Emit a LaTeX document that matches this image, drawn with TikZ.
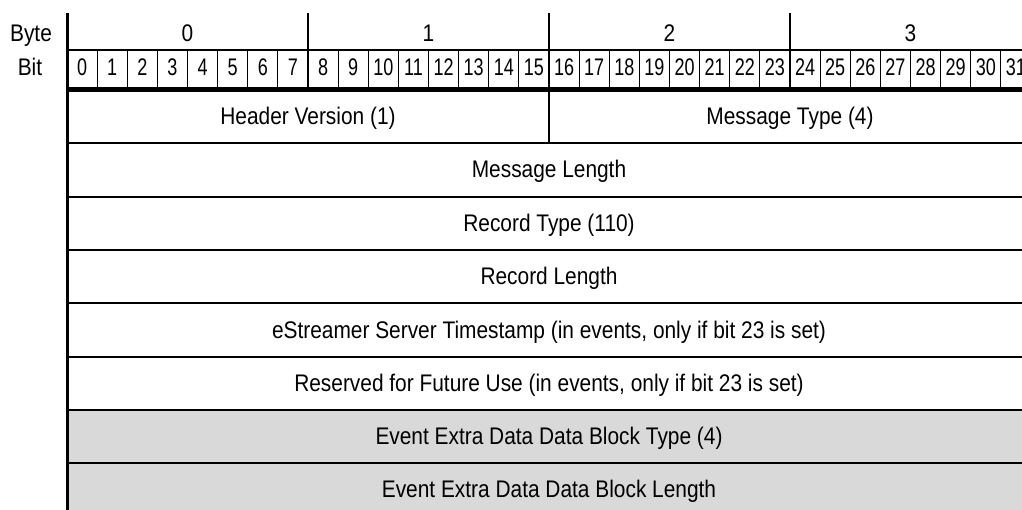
\documentclass[tikz,border=0pt]{standalone}
\usepackage{fontspec}
\setmainfont{Liberation Sans}
\newfontfamily\mainnarrow[FakeStretch=0.87]{Liberation Sans}
\newfontfamily\bitfont[FakeStretch=0.75]{Liberation Sans}
\definecolor{rowgray}{HTML}{D9D9D9}
\begin{document}
\begin{tikzpicture}[x=1pt,y=-1pt,
  lbl/.style={font=\mainnarrow\fontsize{24}{26}\selectfont, inner sep=0, anchor=base},
  bitlbl/.style={font=\bitfont\fontsize{24}{26}\selectfont, inner sep=0, anchor=base},
  rowline/.style={line width=2pt},
  thinline/.style={line width=0.8pt},
  byteline/.style={line width=2pt}]
\useasboundingbox (0,0) rectangle (1022,510);
\clip (0,0) rectangle (1022,510);
% gray rows
\fill[rowgray] (67,410) rectangle (1040,520);
% row lines
\foreach \y in {143,197,250,303,357,410,463}
  \draw[rowline] (67,\y) -- (1040,\y);
% thick line under bit row
\draw[line width=5pt] (67,90) -- (1040,90);
% top of bit row
\draw[line width=1.5pt] (67,50) -- (1040,50);
% bit separators
\foreach \i in {1,...,31}{
  \pgfmathsetmacro{\xx}{67+\i*30.125}
  \draw[thinline] (\xx,50) -- (\xx,88);
}
\foreach \i in {8,16,24}{
  \pgfmathsetmacro{\xx}{67+\i*30.125}
  \draw[byteline] (\xx,13) -- (\xx,88);
}
% header split
\draw[rowline] (549,90) -- (549,143);
% left line
\draw[line width=3pt] (67,13) -- (67,520);
% labels
\node[lbl] (bytelbl) at (31,42) {Byte};
\node[lbl] (bitlbl) at (30,76) {Bit};
\foreach \b in {0,...,3}{
  \pgfmathsetmacro{\xx}{67+(\b*8+4)*30.125}
  \node[lbl] (byte\b) at (\xx,42) {\b};
}
\foreach \i in {0,...,31}{
  \pgfmathsetmacro{\xx}{67+(\i+0.5)*30.125}
  \node[bitlbl] (bit\i) at (\xx,76) {\i};
}
\node[lbl] (hv) at (308,125) {Header Version (1)};
\node[lbl] (mt) at (790,125) {Message Type (4)};
\node[lbl] (ml) at (549,178) {Message Length};
\node[lbl] (rt) at (549,231.5) {Record Type (110)};
\node[lbl] (rl) at (549,284.5) {Record Length};
\node[lbl] (ts) at (549,338) {eStreamer Server Timestamp (in events, only if bit 23 is set)};
\node[lbl] (rf) at (549,391.5) {Reserved for Future Use (in events, only if bit 23 is set)};
\node[lbl] (ebt) at (549,444.5) {Event Extra Data Data Block Type (4)};
\node[lbl] (ebl) at (549,497.5) {Event Extra Data Data Block Length};
\end{tikzpicture}
\end{document}
